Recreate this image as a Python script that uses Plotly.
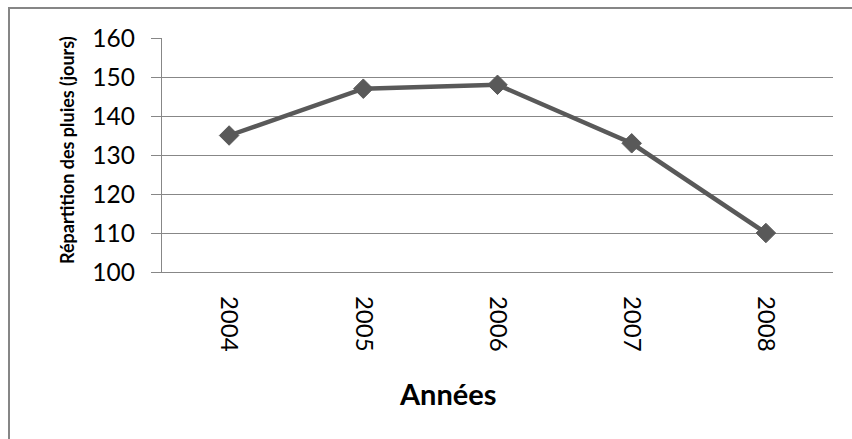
import plotly.graph_objects as go

years = ["2004", "2005", "2006", "2007", "2008"]
jours = [135, 147, 148, 133, 110]
y_ticks = [100, 110, 120, 130, 140, 150, 160]

W, H = 852, 439
L, R, T, B = 162, 19, 38, 167
pw, ph = W - L - R, H - T - B

def px_x(p):
    return (p - L) / pw

def px_y(p):
    return (H - B - p) / ph

GRID = "#878787"
LINE = "#595959"
FONT = "Lato, 'Open Sans', sans-serif"

fig = go.Figure()
fig.add_trace(go.Scatter(
    x=years, y=jours, mode="lines+markers",
    line=dict(color=LINE, width=4.5),
    marker=dict(symbol="diamond", size=15, color=LINE, line=dict(color=LINE, width=1)),
    showlegend=False, hoverinfo="x+y",
))

fig.update_layout(
    width=W, height=H,
    margin=dict(l=L, r=R, t=T, b=B),
    paper_bgcolor="white", plot_bgcolor="white",
    font=dict(family=FONT, color="black"),
    xaxis=dict(
        type="category", range=[-0.5, 4.5],
        showgrid=False, showline=True, linecolor=GRID, linewidth=1.3,
        ticks="", tickangle=90, tickfont=dict(size=24, family=FONT),
        ticklabelstandoff=18, zeroline=False,
    ),
    yaxis=dict(
        range=[100, 160], tickvals=y_ticks,
        showgrid=True, gridcolor=GRID, gridwidth=1.3,
        showline=True, linecolor=GRID, linewidth=1.3,
        ticks="outside", ticklen=10, tickcolor=GRID, tickwidth=1.3,
        tickfont=dict(size=24.5, family=FONT),
        ticklabelstandoff=11, zeroline=False,
    ),
    shapes=[dict(
        type="rect", xref="paper", yref="paper",
        x0=px_x(9), x1=px_x(W + 20), y0=px_y(H + 20), y1=px_y(8),
        line=dict(color="#868686", width=2), fillcolor="rgba(0,0,0,0)", layer="below",
    )],
    annotations=[
        dict(text="<b>Répartition des pluies (jours)</b>", xref="paper", yref="paper",
             x=px_x(67), y=px_y(150), textangle=-90, showarrow=False,
             xanchor="center", yanchor="middle", font=dict(size=18, family=FONT, color="black")),
        dict(text="<b>Années</b>", xref="paper", yref="paper",
             x=px_x(448), y=px_y(393), showarrow=False,
             xanchor="center", yanchor="middle", font=dict(size=29, family=FONT, color="black")),
    ],
)

fig.write_html("out.html")
